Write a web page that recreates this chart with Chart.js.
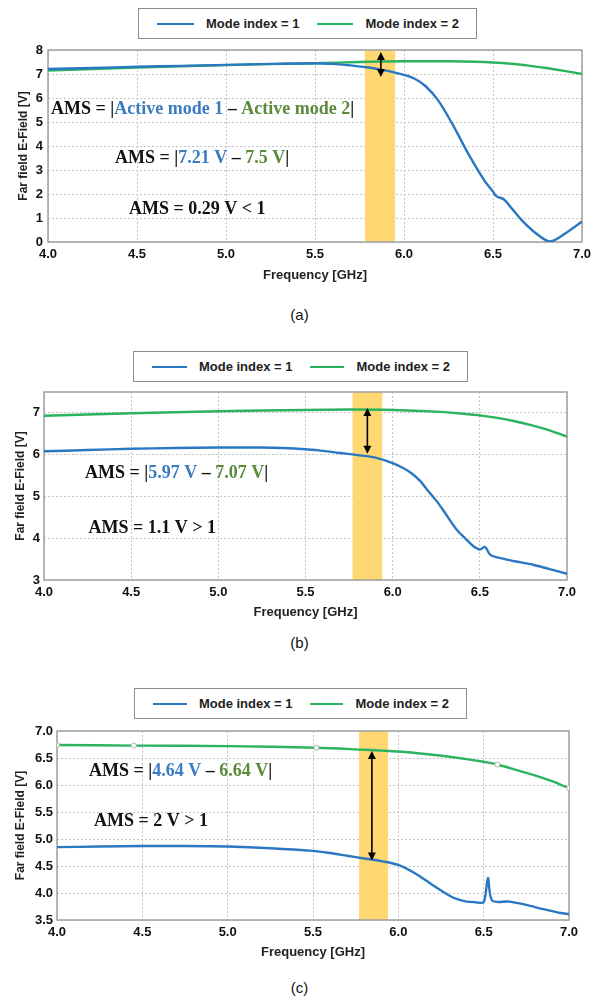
<!DOCTYPE html>
<html>
<head>
<meta charset="utf-8">
<script src="https://cdn.jsdelivr.net/npm/chart.js@4.4.1/dist/chart.umd.min.js"></script>
<style>
body { margin:0; background:#fff; width:599px; height:1000px; position:relative; overflow:hidden; }
canvas { position:absolute; left:0; }
.legend { position:absolute; box-sizing:border-box; height:31px; border:1px solid #8c8c8c; background:#fff;
  display:flex; align-items:center; padding-left:18px; font:bold 13px "Liberation Sans", Arial, sans-serif; color:#222; }
.legend .ln { display:inline-block; width:42px; height:2px; margin-right:12px; }
.legend .tx { margin-right:17px; white-space:nowrap; }
.cap { position:absolute; left:0; width:599px; text-align:center; font:15px "Liberation Sans", Arial, sans-serif; color:#111; }
</style>
</head>
<body>
<canvas id="chartA" width="599" height="286" style="top:0"></canvas>
<canvas id="chartB" width="599" height="280" style="top:340px"></canvas>
<canvas id="chartC" width="599" height="280" style="top:680px"></canvas>
<div class="cap" style="top:306px">(a)</div>
<div class="cap" style="top:634px">(b)</div>
<div class="cap" style="top:979px">(c)</div>

<script>
// series labels + colours
const seriesNames = ['Mode index = 1', 'Mode index = 2'];
const seriesColors = ['#2a78c2', '#2bb35e'];

// (a)
const freqA1 = [4.0, 4.25, 4.5, 4.75, 5.0, 5.25, 5.5, 5.6, 5.7, 5.8, 5.85, 5.9, 6.0, 6.06, 6.12, 6.19, 6.27, 6.36, 6.45, 6.5, 6.52, 6.56, 6.61, 6.66, 6.73, 6.82, 6.92, 7.0];
const modeA1 = [7.21, 7.25, 7.3, 7.34, 7.38, 7.42, 7.45, 7.42, 7.36, 7.27, 7.21, 7.14, 6.96, 6.8, 6.5, 5.92, 4.94, 3.69, 2.58, 2.1, 1.9, 1.78, 1.36, 0.92, 0.43, 0.02, 0.43, 0.85];
const freqA2 = [4.0, 4.5, 5.0, 5.5, 5.75, 6.0, 6.25, 6.4, 6.5, 6.6, 6.7, 6.8, 6.9, 7.0];
const modeA2 = [7.14, 7.27, 7.37, 7.45, 7.5, 7.53, 7.53, 7.51, 7.48, 7.43, 7.35, 7.25, 7.13, 7.0];

// (b)
const freqB1 = [4.0, 4.25, 4.5, 4.75, 5.0, 5.25, 5.5, 5.6, 5.7, 5.8, 5.9, 6.0, 6.06, 6.11, 6.16, 6.2, 6.25, 6.29, 6.33, 6.37, 6.42, 6.46, 6.5, 6.53, 6.56, 6.6, 6.7, 6.81, 6.9, 7.0];
const modeB1 = [6.08, 6.11, 6.14, 6.16, 6.17, 6.17, 6.13, 6.09, 6.04, 5.99, 5.93, 5.8, 5.68, 5.55, 5.36, 5.15, 4.9, 4.67, 4.42, 4.19, 3.98, 3.82, 3.73, 3.79, 3.6, 3.54, 3.45, 3.36, 3.26, 3.15];
const freqB2 = [4.0, 4.5, 5.0, 5.5, 5.75, 6.0, 6.25, 6.4, 6.5, 6.6, 6.7, 6.8, 6.9, 7.0];
const modeB2 = [6.93, 6.99, 7.04, 7.07, 7.08, 7.07, 7.03, 6.98, 6.94, 6.88, 6.8, 6.7, 6.58, 6.43];

// (c)
const freqC1 = [4.0, 4.25, 4.5, 4.75, 5.0, 5.25, 5.5, 5.6, 5.7, 5.8, 5.9, 6.0, 6.1, 6.2, 6.3, 6.35, 6.4, 6.45, 6.5, 6.525, 6.55, 6.65, 6.75, 6.85, 6.95, 7.0];
const modeC1 = [4.85, 4.86, 4.87, 4.87, 4.86, 4.83, 4.78, 4.74, 4.69, 4.64, 4.59, 4.52, 4.36, 4.15, 3.95, 3.88, 3.84, 3.83, 3.83, 4.28, 3.86, 3.84, 3.78, 3.7, 3.63, 3.61];
const freqC2 = [4.0, 4.45, 5.0, 5.52, 5.75, 6.0, 6.2, 6.4, 6.5, 6.58, 6.7, 6.8, 6.9, 7.0];
const modeC2 = [6.74, 6.73, 6.72, 6.69, 6.66, 6.62, 6.56, 6.48, 6.43, 6.38, 6.27, 6.18, 6.07, 5.94];
const markedC2 = [4.0, 4.45, 5.52, 6.58, 7.0];   // small hollow markers on mode 2 in (c)

// highlighted band [from, to] GHz and arrow [x, yTop, yBottom]
const bandA = [5.78, 5.95], arrowA = [5.87, 7.92, 6.88];
const bandB = [5.77, 5.94], arrowB = [5.855, 7.12, 6.02];
const bandC = [5.77, 5.94], arrowC = [5.845, 6.63, 4.6];

const BLUE_TXT = '#3a7cc0', GREEN_TXT = '#5a8a3a', BLACK_TXT = '#111';
const notesA = [
  {x: 4.017, y: 5.54, parts: [['AMS = |', BLACK_TXT], ['Active mode 1', BLUE_TXT], [' \u2013 ', BLACK_TXT], ['Active mode 2', GREEN_TXT], ['|', BLACK_TXT]]},
  {x: 4.376, y: 3.5, parts: [['AMS = |', BLACK_TXT], ['7.21 V', BLUE_TXT], [' \u2013 ', BLACK_TXT], ['7.5 V', GREEN_TXT], ['|', BLACK_TXT]]},
  {x: 4.455, y: 1.375, parts: [['AMS = 0.29 V < 1', BLACK_TXT]]}
];
const notesB = [
  {x: 4.235, y: 5.56, parts: [['AMS = |', BLACK_TXT], ['5.97 V', BLUE_TXT], [' \u2013 ', BLACK_TXT], ['7.07 V', GREEN_TXT], ['|', BLACK_TXT]]},
  {x: 4.255, y: 4.24, parts: [['AMS = 1.1 V > 1', BLACK_TXT]]}
];
const notesC = [
  {x: 4.187, y: 6.25, parts: [['AMS = |', BLACK_TXT], ['4.64 V', BLUE_TXT], [' \u2013 ', BLACK_TXT], ['6.64 V', GREEN_TXT], ['|', BLACK_TXT]]},
  {x: 4.217, y: 5.32, parts: [['AMS = 2 V > 1', BLACK_TXT]]}
];

const zip = (xs, ys) => xs.map((x, i) => ({x: x, y: ys[i]}));

// band, frame, arrow, notes
const extrasPlugin = {
  id: 'extras',
  beforeDatasetsDraw(chart, args, opts) {
    const {ctx, chartArea: a, scales: {x, y}} = chart;
    ctx.save();
    ctx.fillStyle = '#ffd873';
    const x1 = x.getPixelForValue(opts.band[0]), x2 = x.getPixelForValue(opts.band[1]);
    ctx.fillRect(x1, a.top, x2 - x1, a.bottom - a.top);
    ctx.strokeStyle = '#a0a0a0';
    ctx.lineWidth = 1.5;
    ctx.strokeRect(a.left, a.top, a.right - a.left, a.bottom - a.top);
    ctx.restore();
  },
  afterDatasetsDraw(chart, args, opts) {
    const {ctx, scales: {x, y}} = chart;
    ctx.save();
    // double arrow
    const ax = x.getPixelForValue(opts.arrow[0]);
    const yt = y.getPixelForValue(opts.arrow[1]), yb = y.getPixelForValue(opts.arrow[2]);
    ctx.strokeStyle = '#000'; ctx.fillStyle = '#000'; ctx.lineWidth = 1.6;
    ctx.beginPath(); ctx.moveTo(ax, yt + 5); ctx.lineTo(ax, yb - 5); ctx.stroke();
    ctx.beginPath(); ctx.moveTo(ax, yt); ctx.lineTo(ax - 4, yt + 8); ctx.lineTo(ax + 4, yt + 8); ctx.closePath(); ctx.fill();
    ctx.beginPath(); ctx.moveTo(ax, yb); ctx.lineTo(ax - 4, yb - 8); ctx.lineTo(ax + 4, yb - 8); ctx.closePath(); ctx.fill();
    // notes
    ctx.font = 'bold 18px "Liberation Serif", "Times New Roman", serif';
    ctx.textBaseline = 'middle';
    opts.notes.forEach(n => {
      let px = x.getPixelForValue(n.x);
      const py = y.getPixelForValue(n.y);
      n.parts.forEach(([t, c]) => {
        ctx.fillStyle = c;
        ctx.fillText(t, px, py);
        px += ctx.measureText(t).width;
      });
    });
    ctx.restore();
  }
};

function makeChart(id, s) {
  const marks = s.marks || [];
  const chart = new Chart(document.getElementById(id), {
    type: 'line',
    data: {
      datasets: [
        {label: seriesNames[0], data: zip(s.f1, s.m1), borderColor: seriesColors[0], backgroundColor: seriesColors[0], borderWidth: 2.4, pointRadius: 0, tension: 0.3},
        {label: seriesNames[1], data: zip(s.f2, s.m2), borderColor: seriesColors[1], backgroundColor: seriesColors[1], borderWidth: 2.4, tension: 0.3,
          pointRadius: c => (c.raw && marks.includes(c.raw.x)) ? 2.5 : 0,
          pointBackgroundColor: '#fff', pointBorderColor: '#b0b0b0', pointBorderWidth: 1}
      ]
    },
    options: {
      responsive: false,
      animation: false,
      layout: {padding: {top: s.top, right: s.right, left: 0, bottom: 0}},
      plugins: {
        legend: {display: false},
        tooltip: {enabled: false},
        extras: {band: s.band, arrow: s.arrow, notes: s.notes}
      },
      scales: {
        x: {
          type: 'linear', min: 4, max: 7,
          afterFit: sc => { sc.height = s.xh; },
          ticks: {stepSize: 0.5, padding: s.xpad, maxRotation: 0, color: '#111',
            font: {family: '"Liberation Sans", Arial, sans-serif', size: 13, weight: 'bold'},
            callback: v => v.toFixed(1)},
          grid: {color: '#c4c4c4', drawTicks: false},
          border: {display: false, dash: [2, 2]},
          title: {display: true, text: 'Frequency [GHz]', color: '#222', padding: {top: 0, bottom: s.tpad},
            font: {family: '"Liberation Sans", Arial, sans-serif', size: 13, weight: 'bold'}}
        },
        y: {
          min: s.ymin, max: s.ymax,
          afterFit: sc => { sc.width = s.left; },
          ticks: {stepSize: s.step, padding: s.ypad, includeBounds: false, color: '#111',
            font: {family: '"Liberation Sans", Arial, sans-serif', size: 13, weight: 'bold'},
            callback: v => v.toFixed(s.dec)},
          grid: {color: '#c4c4c4', drawTicks: false},
          border: {display: false, dash: [2, 2]},
          title: {display: true, text: 'Far field E-Field [V]', color: '#222', padding: {top: s.ytpad, bottom: 0},
            font: {family: '"Liberation Sans", Arial, sans-serif', size: 12, weight: 'bold'}}
        }
      }
    },
    plugins: [extrasPlugin]
  });

  // boxed legend built from the chart's datasets
  const lg = document.createElement('div');
  lg.className = 'legend';
  lg.style.left = s.lg[0] + 'px';
  lg.style.top = s.lg[1] + 'px';
  lg.style.width = s.lg[2] + 'px';
  chart.data.datasets.forEach(d => {
    lg.innerHTML += `<span class="ln" style="background:${d.borderColor}"></span><span class="tx">${d.label}</span>`;
  });
  document.body.appendChild(lg);
  return chart;
}

makeChart('chartA', {f1: freqA1, m1: modeA1, f2: freqA2, m2: modeA2, ymin: 0, ymax: 8, step: 1, dec: 0,
  band: bandA, arrow: arrowA, notes: notesA,
  top: 50, right: 17, left: 48, xh: 44, xpad: 5, tpad: 3, ypad: 5, ytpad: 16, lg: [138, 8, 339]});

makeChart('chartB', {f1: freqB1, m1: modeB1, f2: freqB2, m2: modeB2, ymin: 3, ymax: 7.5, step: 1, dec: 0,
  band: bandB, arrow: arrowB, notes: notesB,
  top: 52, right: 32, left: 44, xh: 40, xpad: 5, tpad: 0, ypad: 4, ytpad: 13, lg: [133, 351, 335]});

makeChart('chartC', {f1: freqC1, m1: modeC1, f2: freqC2, m2: modeC2, ymin: 3.5, ymax: 7.0, step: 0.5, dec: 1,
  band: bandC, arrow: arrowC, notes: notesC, marks: markedC2,
  top: 51, right: 30, left: 57, xh: 40, xpad: 5, tpad: 0, ypad: 4, ytpad: 13, lg: [134, 688, 333]});
</script>
</body>
</html>
